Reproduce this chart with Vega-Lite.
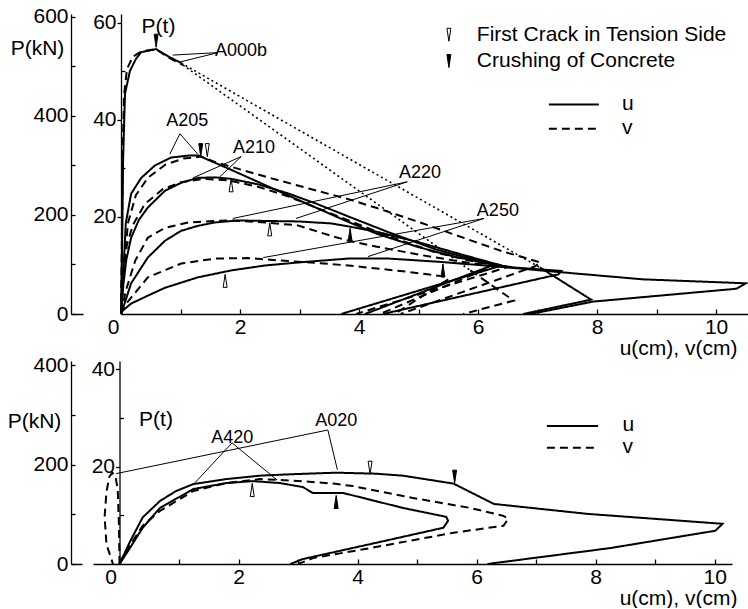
{
 "$schema": "https://vega.github.io/schema/vega-lite/v6.json",
 "padding": {"left": 7, "top": 5, "right": 0, "bottom": 0},
 "config": {
  "font": "Liberation Sans",
  "view": {"stroke": null},
  "axis": {"grid": false, "domain": true, "domainColor": "black", "tickColor": "black", "labelColor": "black", "titleColor": "black", "labelFontSize": 21, "titleFontSize": 21, "titleFontWeight": "normal", "labelFlush": false, "labelOverlap": false, "domainWidth": 1.3, "tickWidth": 1.3},
  "text": {"fontSize": 18, "color": "black"}
 },
 "datasets": {
  "curves": [
   {"g":"T","s":"A000b u1","c":"u","x":0,"p":0},{"g":"T","s":"A000b u1","c":"u","x":0.02,"p":150},{"g":"T","s":"A000b u1","c":"u","x":0.035,"p":310},{"g":"T","s":"A000b u1","c":"u","x":0.067,"p":445},{"g":"T","s":"A000b u1","c":"u","x":0.15,"p":491},{"g":"T","s":"A000b u1","c":"u","x":0.25,"p":515},{"g":"T","s":"A000b u1","c":"u","x":0.34,"p":529},{"g":"T","s":"A000b u1","c":"u","x":0.59,"p":535},{"g":"T","s":"A000b u1","c":"u","x":0.8,"p":520},{"g":"T","s":"A000b u1","c":"u","x":1.01,"p":507},
   {"g":"T","s":"A000b u2","c":"u","x":7.04,"p":94},{"g":"T","s":"A000b u2","c":"u","x":7.9,"p":29},{"g":"T","s":"A000b u2","c":"u","x":6.76,"p":0},
   {"g":"T","s":"A000b v1","c":"v","x":0,"p":0},{"g":"T","s":"A000b v1","c":"v","x":0.015,"p":150},{"g":"T","s":"A000b v1","c":"v","x":0.03,"p":330},{"g":"T","s":"A000b v1","c":"v","x":0.05,"p":440},{"g":"T","s":"A000b v1","c":"v","x":0.1,"p":495},{"g":"T","s":"A000b v1","c":"v","x":0.2,"p":520},{"g":"T","s":"A000b v1","c":"v","x":0.35,"p":531},{"g":"T","s":"A000b v1","c":"v","x":0.59,"p":535},{"g":"T","s":"A000b v1","c":"v","x":0.8,"p":518},{"g":"T","s":"A000b v1","c":"v","x":1.04,"p":503},
   {"g":"T","s":"A000b v2","c":"v","x":5.87,"p":88},{"g":"T","s":"A000b v2","c":"v","x":6.6,"p":27},{"g":"T","s":"A000b v2","c":"v","x":5.75,"p":0},
   {"g":"T","s":"A205 u","c":"u","x":0,"p":0},{"g":"T","s":"A205 u","c":"u","x":0.03,"p":60},{"g":"T","s":"A205 u","c":"u","x":0.08,"p":183},{"g":"T","s":"A205 u","c":"u","x":0.17,"p":243},{"g":"T","s":"A205 u","c":"u","x":0.34,"p":275},{"g":"T","s":"A205 u","c":"u","x":0.57,"p":300},{"g":"T","s":"A205 u","c":"u","x":0.84,"p":316},{"g":"T","s":"A205 u","c":"u","x":1.13,"p":320},{"g":"T","s":"A205 u","c":"u","x":1.3,"p":320},{"g":"T","s":"A205 u","c":"u","x":1.8,"p":294},{"g":"T","s":"A205 u","c":"u","x":2.8,"p":240},{"g":"T","s":"A205 u","c":"u","x":3.82,"p":186},{"g":"T","s":"A205 u","c":"u","x":4.3,"p":162},{"g":"T","s":"A205 u","c":"u","x":5.0,"p":135},{"g":"T","s":"A205 u","c":"u","x":5.6,"p":116},{"g":"T","s":"A205 u","c":"u","x":6.15,"p":102},{"g":"T","s":"A205 u","c":"u","x":6.6,"p":94},{"g":"T","s":"A205 u","c":"u","x":7.4,"p":87},{"g":"T","s":"A205 u","c":"u","x":7.35,"p":80},{"g":"T","s":"A205 u","c":"u","x":4.4,"p":0},
   {"g":"T","s":"A205 v","c":"v","x":0,"p":0},{"g":"T","s":"A205 v","c":"v","x":0.05,"p":100},{"g":"T","s":"A205 v","c":"v","x":0.12,"p":185},{"g":"T","s":"A205 v","c":"v","x":0.25,"p":240},{"g":"T","s":"A205 v","c":"v","x":0.45,"p":275},{"g":"T","s":"A205 v","c":"v","x":0.75,"p":302},{"g":"T","s":"A205 v","c":"v","x":1.05,"p":314},{"g":"T","s":"A205 v","c":"v","x":1.35,"p":318},{"g":"T","s":"A205 v","c":"v","x":1.6,"p":306},{"g":"T","s":"A205 v","c":"v","x":2.5,"p":275},{"g":"T","s":"A205 v","c":"v","x":3.2,"p":252},{"g":"T","s":"A205 v","c":"v","x":3.82,"p":232},{"g":"T","s":"A205 v","c":"v","x":4.3,"p":214},{"g":"T","s":"A205 v","c":"v","x":5.0,"p":186},{"g":"T","s":"A205 v","c":"v","x":5.8,"p":152},{"g":"T","s":"A205 v","c":"v","x":6.4,"p":127},{"g":"T","s":"A205 v","c":"v","x":6.77,"p":114},{"g":"T","s":"A205 v","c":"v","x":7.05,"p":104},{"g":"T","s":"A205 v","c":"v","x":6.95,"p":96},{"g":"T","s":"A205 v","c":"v","x":4.7,"p":0},
   {"g":"T","s":"A210 u","c":"u","x":0,"p":0},{"g":"T","s":"A210 u","c":"u","x":0.04,"p":60},{"g":"T","s":"A210 u","c":"u","x":0.09,"p":110},{"g":"T","s":"A210 u","c":"u","x":0.17,"p":154},{"g":"T","s":"A210 u","c":"u","x":0.3,"p":190},{"g":"T","s":"A210 u","c":"u","x":0.45,"p":215},{"g":"T","s":"A210 u","c":"u","x":0.74,"p":249},{"g":"T","s":"A210 u","c":"u","x":1.01,"p":265},{"g":"T","s":"A210 u","c":"u","x":1.29,"p":275},{"g":"T","s":"A210 u","c":"u","x":1.58,"p":276},{"g":"T","s":"A210 u","c":"u","x":1.85,"p":273},{"g":"T","s":"A210 u","c":"u","x":2.3,"p":262},{"g":"T","s":"A210 u","c":"u","x":2.8,"p":244},{"g":"T","s":"A210 u","c":"u","x":3.3,"p":222},{"g":"T","s":"A210 u","c":"u","x":3.8,"p":198},{"g":"T","s":"A210 u","c":"u","x":4.5,"p":165},{"g":"T","s":"A210 u","c":"u","x":5.3,"p":130},{"g":"T","s":"A210 u","c":"u","x":6.0,"p":108},{"g":"T","s":"A210 u","c":"u","x":6.4,"p":98},{"g":"T","s":"A210 u","c":"u","x":3.7,"p":0},
   {"g":"T","s":"A210 v","c":"v","x":0,"p":0},{"g":"T","s":"A210 v","c":"v","x":0.04,"p":80},{"g":"T","s":"A210 v","c":"v","x":0.1,"p":140},{"g":"T","s":"A210 v","c":"v","x":0.2,"p":180},{"g":"T","s":"A210 v","c":"v","x":0.4,"p":222},{"g":"T","s":"A210 v","c":"v","x":0.7,"p":252},{"g":"T","s":"A210 v","c":"v","x":1.0,"p":266},{"g":"T","s":"A210 v","c":"v","x":1.4,"p":273},{"g":"T","s":"A210 v","c":"v","x":1.8,"p":270},{"g":"T","s":"A210 v","c":"v","x":2.3,"p":257},{"g":"T","s":"A210 v","c":"v","x":2.8,"p":238},{"g":"T","s":"A210 v","c":"v","x":3.3,"p":214},{"g":"T","s":"A210 v","c":"v","x":3.8,"p":190},{"g":"T","s":"A210 v","c":"v","x":4.5,"p":157},{"g":"T","s":"A210 v","c":"v","x":5.3,"p":124},{"g":"T","s":"A210 v","c":"v","x":6.0,"p":104},{"g":"T","s":"A210 v","c":"v","x":6.5,"p":95},{"g":"T","s":"A210 v","c":"v","x":3.95,"p":0},
   {"g":"T","s":"A220 u","c":"u","x":0,"p":0},{"g":"T","s":"A220 u","c":"u","x":0.07,"p":25},{"g":"T","s":"A220 u","c":"u","x":0.17,"p":62},{"g":"T","s":"A220 u","c":"u","x":0.45,"p":114},{"g":"T","s":"A220 u","c":"u","x":0.74,"p":148},{"g":"T","s":"A220 u","c":"u","x":1.01,"p":168},{"g":"T","s":"A220 u","c":"u","x":1.29,"p":178},{"g":"T","s":"A220 u","c":"u","x":1.58,"p":185},{"g":"T","s":"A220 u","c":"u","x":1.97,"p":189},{"g":"T","s":"A220 u","c":"u","x":2.42,"p":188},{"g":"T","s":"A220 u","c":"u","x":2.97,"p":187},{"g":"T","s":"A220 u","c":"u","x":3.53,"p":183},{"g":"T","s":"A220 u","c":"u","x":3.82,"p":177},{"g":"T","s":"A220 u","c":"u","x":4.3,"p":166},{"g":"T","s":"A220 u","c":"u","x":5.0,"p":145},{"g":"T","s":"A220 u","c":"u","x":5.7,"p":121},{"g":"T","s":"A220 u","c":"u","x":6.3,"p":101},{"g":"T","s":"A220 u","c":"u","x":4.1,"p":0},
   {"g":"T","s":"A220 v","c":"v","x":0,"p":0},{"g":"T","s":"A220 v","c":"v","x":0.08,"p":47},{"g":"T","s":"A220 v","c":"v","x":0.24,"p":108},{"g":"T","s":"A220 v","c":"v","x":0.45,"p":154},{"g":"T","s":"A220 v","c":"v","x":0.74,"p":174},{"g":"T","s":"A220 v","c":"v","x":1.13,"p":185},{"g":"T","s":"A220 v","c":"v","x":1.58,"p":188},{"g":"T","s":"A220 v","c":"v","x":1.85,"p":189},{"g":"T","s":"A220 v","c":"v","x":2.42,"p":185},{"g":"T","s":"A220 v","c":"v","x":2.97,"p":179},{"g":"T","s":"A220 v","c":"v","x":3.53,"p":158},{"g":"T","s":"A220 v","c":"v","x":3.82,"p":148},{"g":"T","s":"A220 v","c":"v","x":4.3,"p":136},{"g":"T","s":"A220 v","c":"v","x":5.0,"p":120},{"g":"T","s":"A220 v","c":"v","x":5.7,"p":106},{"g":"T","s":"A220 v","c":"v","x":6.25,"p":97},{"g":"T","s":"A220 v","c":"v","x":4.35,"p":0},
   {"g":"T","s":"A250 u","c":"u","x":0,"p":0},{"g":"T","s":"A250 u","c":"u","x":0.03,"p":7},{"g":"T","s":"A250 u","c":"u","x":0.17,"p":21},{"g":"T","s":"A250 u","c":"u","x":0.45,"p":37},{"g":"T","s":"A250 u","c":"u","x":0.74,"p":53},{"g":"T","s":"A250 u","c":"u","x":1.29,"p":74},{"g":"T","s":"A250 u","c":"u","x":1.85,"p":88},{"g":"T","s":"A250 u","c":"u","x":2.42,"p":98},{"g":"T","s":"A250 u","c":"u","x":2.97,"p":104},{"g":"T","s":"A250 u","c":"u","x":3.82,"p":112},{"g":"T","s":"A250 u","c":"u","x":4.5,"p":112},{"g":"T","s":"A250 u","c":"u","x":5.4,"p":105},{"g":"T","s":"A250 u","c":"u","x":6.4,"p":95},{"g":"T","s":"A250 u","c":"u","x":7.43,"p":84},{"g":"T","s":"A250 u","c":"u","x":8.77,"p":70},{"g":"T","s":"A250 u","c":"u","x":10.5,"p":62},{"g":"T","s":"A250 u","c":"u","x":10.34,"p":51},{"g":"T","s":"A250 u","c":"u","x":7.93,"p":25},{"g":"T","s":"A250 u","c":"u","x":7.09,"p":5},{"g":"T","s":"A250 u","c":"u","x":6.86,"p":0},
   {"g":"T","s":"A250 v","c":"v","x":0,"p":0},{"g":"T","s":"A250 v","c":"v","x":0.05,"p":15},{"g":"T","s":"A250 v","c":"v","x":0.17,"p":33},{"g":"T","s":"A250 v","c":"v","x":0.45,"p":74},{"g":"T","s":"A250 v","c":"v","x":1.01,"p":102},{"g":"T","s":"A250 v","c":"v","x":1.58,"p":112},{"g":"T","s":"A250 v","c":"v","x":2.13,"p":113},{"g":"T","s":"A250 v","c":"v","x":2.69,"p":108},{"g":"T","s":"A250 v","c":"v","x":3.3,"p":103},{"g":"T","s":"A250 v","c":"v","x":3.82,"p":98},{"g":"T","s":"A250 v","c":"v","x":4.3,"p":92},{"g":"T","s":"A250 v","c":"v","x":4.9,"p":84},{"g":"T","s":"A250 v","c":"v","x":5.41,"p":76},{"g":"T","s":"A250 v","c":"v","x":5.5,"p":70},{"g":"T","s":"A250 v","c":"v","x":4.6,"p":0},
   {"g":"B","s":"A020 u","c":"u","x":0,"p":0},{"g":"B","s":"A020 u","c":"u","x":0.18,"p":46},{"g":"B","s":"A020 u","c":"u","x":0.39,"p":94},{"g":"B","s":"A020 u","c":"u","x":0.68,"p":127},{"g":"B","s":"A020 u","c":"u","x":0.95,"p":147},{"g":"B","s":"A020 u","c":"u","x":1.24,"p":161},{"g":"B","s":"A020 u","c":"u","x":1.79,"p":171},{"g":"B","s":"A020 u","c":"u","x":2.36,"p":178},{"g":"B","s":"A020 u","c":"u","x":2.92,"p":181},{"g":"B","s":"A020 u","c":"u","x":3.64,"p":184},{"g":"B","s":"A020 u","c":"u","x":4.3,"p":182},{"g":"B","s":"A020 u","c":"u","x":4.76,"p":178},{"g":"B","s":"A020 u","c":"u","x":5.61,"p":162},{"g":"B","s":"A020 u","c":"u","x":6.29,"p":121},{"g":"B","s":"A020 u","c":"u","x":7.86,"p":101},{"g":"B","s":"A020 u","c":"u","x":10.13,"p":81},{"g":"B","s":"A020 u","c":"u","x":10.01,"p":67},{"g":"B","s":"A020 u","c":"u","x":8.24,"p":32},{"g":"B","s":"A020 u","c":"u","x":6.18,"p":0},
   {"g":"B","s":"A020 v","c":"v","x":0,"p":0},{"g":"B","s":"A020 v","c":"v","x":-0.01,"p":80},{"g":"B","s":"A020 v","c":"v","x":-0.03,"p":150},{"g":"B","s":"A020 v","c":"v","x":-0.07,"p":178},{"g":"B","s":"A020 v","c":"v","x":-0.12,"p":184},{"g":"B","s":"A020 v","c":"v","x":-0.17,"p":176},{"g":"B","s":"A020 v","c":"v","x":-0.22,"p":145},{"g":"B","s":"A020 v","c":"v","x":-0.25,"p":95},{"g":"B","s":"A020 v","c":"v","x":-0.22,"p":40},{"g":"B","s":"A020 v","c":"v","x":-0.11,"p":0},
   {"g":"B","s":"A420 u","c":"u","x":0,"p":0},{"g":"B","s":"A420 u","c":"u","x":0.11,"p":20},{"g":"B","s":"A420 u","c":"u","x":0.39,"p":73},{"g":"B","s":"A420 u","c":"u","x":0.68,"p":113},{"g":"B","s":"A420 u","c":"u","x":1.24,"p":151},{"g":"B","s":"A420 u","c":"u","x":1.79,"p":163},{"g":"B","s":"A420 u","c":"u","x":2.24,"p":167},{"g":"B","s":"A420 u","c":"u","x":2.7,"p":163},{"g":"B","s":"A420 u","c":"u","x":3.08,"p":155},{"g":"B","s":"A420 u","c":"u","x":3.25,"p":143},{"g":"B","s":"A420 u","c":"u","x":3.76,"p":143},{"g":"B","s":"A420 u","c":"u","x":4.76,"p":113},{"g":"B","s":"A420 u","c":"u","x":5.49,"p":95},{"g":"B","s":"A420 u","c":"u","x":5.52,"p":87},{"g":"B","s":"A420 u","c":"u","x":5.44,"p":73},{"g":"B","s":"A420 u","c":"u","x":4.21,"p":40},{"g":"B","s":"A420 u","c":"u","x":3.08,"p":10},{"g":"B","s":"A420 u","c":"u","x":2.87,"p":0},
   {"g":"B","s":"A420 v","c":"v","x":0,"p":0},{"g":"B","s":"A420 v","c":"v","x":0.11,"p":26},{"g":"B","s":"A420 v","c":"v","x":0.39,"p":77},{"g":"B","s":"A420 v","c":"v","x":0.68,"p":107},{"g":"B","s":"A420 v","c":"v","x":1.24,"p":147},{"g":"B","s":"A420 v","c":"v","x":1.79,"p":163},{"g":"B","s":"A420 v","c":"v","x":2.36,"p":171},{"g":"B","s":"A420 v","c":"v","x":2.92,"p":168},{"g":"B","s":"A420 v","c":"v","x":3.59,"p":162},{"g":"B","s":"A420 v","c":"v","x":3.92,"p":157},{"g":"B","s":"A420 v","c":"v","x":4.93,"p":133},{"g":"B","s":"A420 v","c":"v","x":5.89,"p":113},{"g":"B","s":"A420 v","c":"v","x":6.45,"p":97},{"g":"B","s":"A420 v","c":"v","x":6.53,"p":91},{"g":"B","s":"A420 v","c":"v","x":6.45,"p":77},{"g":"B","s":"A420 v","c":"v","x":5.61,"p":63},{"g":"B","s":"A420 v","c":"v","x":4.21,"p":32},{"g":"B","s":"A420 v","c":"v","x":3.25,"p":12},{"g":"B","s":"A420 v","c":"v","x":3.0,"p":0}
  ],
  "jumps": [
   {"g":"T","s":"A000b u","c":"u","x":1.01,"p":507},{"g":"T","s":"A000b u","c":"u","x":7.04,"p":94},
   {"g":"T","s":"A000b v","c":"v","x":1.04,"p":503},{"g":"T","s":"A000b v","c":"v","x":5.87,"p":88}
  ],
  "events": [
   {"g":"T","s":"A000b","e":"crush","d":"down","x":0.59,"p":552},
   {"g":"T","s":"A205","e":"crush","d":"down","x":1.34,"p":331},
   {"g":"T","s":"A205","e":"crack","d":"down","x":1.45,"p":331},
   {"g":"T","s":"A210","e":"crack","d":"up","x":1.85,"p":260},
   {"g":"T","s":"A220","e":"crack","d":"up","x":2.5,"p":171},
   {"g":"T","s":"A220","e":"crush","d":"up","x":3.85,"p":160},
   {"g":"T","s":"A250","e":"crack","d":"up","x":1.75,"p":67},
   {"g":"T","s":"A250","e":"crush","d":"up","x":5.41,"p":88},
   {"g":"B","s":"A020","e":"crack","d":"down","x":4.21,"p":194},
   {"g":"B","s":"A020","e":"crush","d":"down","x":5.63,"p":176},
   {"g":"B","s":"A420","e":"crack","d":"up","x":2.23,"p":149},
   {"g":"B","s":"A420","e":"crush","d":"up","x":3.64,"p":125}
  ],
  "labels": [
   {"g":"T","t":"A000b","x":1.58,"p":531},
   {"g":"T","t":"A205","x":0.76,"p":390},
   {"g":"T","t":"A210","x":1.88,"p":336},
   {"g":"T","t":"A220","x":4.67,"p":285},
   {"g":"T","t":"A250","x":5.98,"p":208},
   {"g":"B","t":"A420","x":1.54,"p":254},
   {"g":"B","t":"A020","x":3.29,"p":288}
  ],
  "leaders": [
   {"g":"T","x":1.63,"p":528,"x2":0.87,"p2":523},
   {"g":"T","x":1.63,"p":528,"x2":0.99,"p2":509},
   {"g":"T","x":0.99,"p":364,"x2":0.82,"p2":323},
   {"g":"T","x":0.99,"p":364,"x2":1.29,"p2":323},
   {"g":"T","x":2.02,"p":318,"x2":1.21,"p2":275},
   {"g":"T","x":2.02,"p":318,"x2":1.66,"p2":277},
   {"g":"T","x":4.81,"p":267,"x2":1.88,"p2":193},
   {"g":"T","x":4.81,"p":267,"x2":2.94,"p2":193},
   {"g":"T","x":6.1,"p":193,"x2":2.39,"p2":114},
   {"g":"T","x":6.1,"p":193,"x2":4.15,"p2":116},
   {"g":"B","x":1.89,"p":244,"x2":1.24,"p2":160},
   {"g":"B","x":1.89,"p":244,"x2":2.65,"p2":169},
   {"g":"B","x":3.5,"p":270,"x2":-0.06,"p2":182},
   {"g":"B","x":3.5,"p":270,"x2":3.66,"p2":190}
  ],
  "keylines": [
   {"g":"T","c":"u","x":7.19,"x2":8.03,"p":423},
   {"g":"T","c":"v","x":7.19,"x2":8.03,"p":374},
   {"g":"B","c":"u","x":7.18,"x2":8.04,"p":278},
   {"g":"B","c":"v","x":7.18,"x2":8.04,"p":234}
  ],
  "keytexts": [
   {"g":"T","t":"u","x":8.42,"p":425},
   {"g":"T","t":"v","x":8.42,"p":376},
   {"g":"T","t":"First Crack in Tension Side","x":5.98,"p":564},
   {"g":"T","t":"Crushing of Concrete","x":5.98,"p":511},
   {"g":"B","t":"u","x":8.45,"p":280},
   {"g":"B","t":"v","x":8.45,"p":236}
  ],
  "keymarks": [
   {"g":"T","e":"crack","d":"down","x":5.51,"p":564},
   {"g":"T","e":"crush","d":"down","x":5.51,"p":511}
  ]
 },
 "columns": 1,
 "spacing": -4,
 "concat": [
  {
   "width": 679, "height": 300,
   "resolve": {"axis": {"y": "independent"}},
   "layer": [
    {
     "data": {"name": "curves"},
     "transform": [{"filter": "datum.g == 'T'"}],
     "mark": {"type": "line", "strokeWidth": 2, "color": "black", "clip": true},
     "encoding": {
      "x": {"field": "x", "type": "quantitative", "scale": {"domain": [-0.8403, 10.57], "nice": false, "zero": false},
       "axis": {"values": [0,1,2,3,4,5,6,7,8,9,10], "labelExpr": "datum.value % 2 == 0 ? format(datum.value, 'd') : ''", "tickSize": -5, "labelPadding": 7,
        "labelOffset": {"condition": {"test": "datum.value == 0", "value": -8}, "value": 0},
        "domainDash": [12, 38, 1000],
        "title": "u(cm), v(cm)", "titleX": 666, "titleY": 34, "titleAlign": "right", "titleBaseline": "middle"}},
      "y": {"field": "p", "type": "quantitative", "scale": {"domain": [0, 606], "nice": false, "zero": false},
       "axis": {"orient": "left", "offset": 0, "domain": true, "values": [0,100,200,300,400,500,600], "labelExpr": "datum.value % 200 == 0 ? datum.label : ''",
        "tickSize": -4, "labelPadding": 7,
        "title": "P(kN)", "titleAngle": 0, "titleX": -34, "titleY": 34, "titleAlign": "center", "titleBaseline": "middle"}},
      "detail": {"field": "s"},
      "strokeDash": {"field": "c", "type": "nominal", "scale": {"domain": ["u", "v"], "range": [[1, 0], [8, 5]]}, "legend": null},
      "order": {"value": null}
     }
    },
    {
     "data": {"name": "jumps"},
     "transform": [{"filter": "datum.g == 'T'"}],
     "mark": {"type": "line", "strokeWidth": 1.6, "color": "black", "strokeDash": [2, 3]},
     "encoding": {
      "x": {"field": "x", "type": "quantitative", "scale": {"domain": [-0.8403, 10.57], "nice": false, "zero": false}},
      "y": {"field": "p", "type": "quantitative", "scale": {"domain": [0, 606], "nice": false, "zero": false}, "axis": null},
      "detail": {"field": "s"}
     }
    },
    {
     "data": {"name": "leaders"},
     "transform": [{"filter": "datum.g == 'T'"}],
     "mark": {"type": "rule", "strokeWidth": 1, "color": "black"},
     "encoding": {
      "x": {"field": "x", "type": "quantitative", "scale": {"domain": [-0.8403, 10.57], "nice": false, "zero": false}},
      "y": {"field": "p", "type": "quantitative", "scale": {"domain": [0, 606], "nice": false, "zero": false}, "axis": null},
      "x2": {"field": "x2"}, "y2": {"field": "p2"}
     }
    },
    {
     "data": {"name": "labels"},
     "transform": [{"filter": "datum.g == 'T'"}],
     "mark": {"type": "text", "align": "left", "baseline": "middle", "fontSize": 18},
     "encoding": {
      "x": {"field": "x", "type": "quantitative", "scale": {"domain": [-0.8403, 10.57], "nice": false, "zero": false}},
      "y": {"field": "p", "type": "quantitative", "scale": {"domain": [0, 606], "nice": false, "zero": false}, "axis": null},
      "text": {"field": "t"}
     }
    },
    {
     "data": {"name": "keylines"},
     "transform": [{"filter": "datum.g == 'T'"}],
     "mark": {"type": "rule", "strokeWidth": 2, "color": "black"},
     "encoding": {
      "x": {"field": "x", "type": "quantitative", "scale": {"domain": [-0.8403, 10.57], "nice": false, "zero": false}},
      "y": {"field": "p", "type": "quantitative", "scale": {"domain": [0, 606], "nice": false, "zero": false}, "axis": null},
      "x2": {"field": "x2"},
      "strokeDash": {"field": "c", "type": "nominal", "scale": {"domain": ["u", "v"], "range": [[1, 0], [8, 5]]}, "legend": null}
     }
    },
    {
     "data": {"name": "keytexts"},
     "transform": [{"filter": "datum.g == 'T'"}],
     "mark": {"type": "text", "align": "left", "baseline": "middle", "fontSize": 21},
     "encoding": {
      "x": {"field": "x", "type": "quantitative", "scale": {"domain": [-0.8403, 10.57], "nice": false, "zero": false}},
      "y": {"field": "p", "type": "quantitative", "scale": {"domain": [0, 606], "nice": false, "zero": false}, "axis": null},
      "text": {"field": "t"}
     }
    },
    {
     "data": {"name": "keymarks"},
     "transform": [{"filter": "datum.g == 'T'"}],
     "mark": {"type": "point", "shape": "M-0.3,-1L0.3,-1L0,1Z", "size": 170, "filled": true, "stroke": "black", "strokeWidth": 1, "opacity": 1},
     "encoding": {
      "x": {"field": "x", "type": "quantitative", "scale": {"domain": [-0.8403, 10.57], "nice": false, "zero": false}},
      "y": {"field": "p", "type": "quantitative", "scale": {"domain": [0, 606], "nice": false, "zero": false}, "axis": null},
      "fill": {"field": "e", "type": "nominal", "scale": {"domain": ["crack", "crush"], "range": ["white", "black"]}, "legend": null},
      "angle": {"field": "d", "type": "nominal", "scale": {"domain": ["down", "up"], "range": [0, 180]}, "legend": null}
     }
    },
    {
     "data": {"name": "events"},
     "transform": [{"filter": "datum.g == 'T'"}],
     "mark": {"type": "point", "shape": "M-0.3,-1L0.3,-1L0,1Z", "size": 170, "filled": true, "stroke": "black", "strokeWidth": 1, "opacity": 1},
     "encoding": {
      "x": {"field": "x", "type": "quantitative", "scale": {"domain": [-0.8403, 10.57], "nice": false, "zero": false}},
      "y": {"field": "p", "type": "quantitative", "scale": {"domain": [0, 606], "nice": false, "zero": false},
       "axis": {"orient": "left", "offset": -50, "values": [98.0665, 196.133, 294.1995, 392.266, 490.3325, 588.399],
        "labelExpr": "round(datum.value / 9.80665) % 20 == 0 ? format(round(datum.value / 9.80665), 'd') : ''",
        "tickSize": {"condition": {"test": "round(datum.value / 9.80665) % 20 == 0", "value": 4}, "value": -4},
        "labelPadding": 1,
        "title": "P(t)", "titleAngle": 0, "titleX": 37, "titleY": 12, "titleAlign": "center", "titleBaseline": "middle"}},
      "fill": {"field": "e", "type": "nominal", "scale": {"domain": ["crack", "crush"], "range": ["white", "black"]}, "legend": null},
      "angle": {"field": "d", "type": "nominal", "scale": {"domain": ["down", "up"], "range": [0, 180]}, "legend": null}
     }
    }
   ]
  },
  {
   "width": 661, "height": 203,
   "resolve": {"axis": {"y": "independent"}},
   "layer": [
    {
     "data": {"name": "curves"},
     "transform": [{"filter": "datum.g == 'B'"}],
     "mark": {"type": "line", "strokeWidth": 2, "color": "black", "clip": true},
     "encoding": {
      "x": {"field": "x", "type": "quantitative", "scale": {"domain": [-0.8151, 10.29], "nice": false, "zero": false},
       "axis": {"values": [0,1,2,3,4,5,6,7,8,9,10], "labelExpr": "datum.value % 2 == 0 ? format(datum.value, 'd') : ''", "tickSize": -5, "labelPadding": 7,
        "labelOffset": {"condition": {"test": "datum.value == 0", "value": -9}, "value": 0},
        "domainDash": [11, 11, 1000],
        "title": "u(cm), v(cm)", "titleX": 666, "titleY": 34, "titleAlign": "right", "titleBaseline": "middle"}},
      "y": {"field": "p", "type": "quantitative", "scale": {"domain": [0, 409], "nice": false, "zero": false},
       "axis": {"orient": "left", "offset": 0, "domain": true, "values": [0,100,200,300,400], "labelExpr": "datum.value % 200 == 0 ? datum.label : ''",
        "tickSize": -4, "labelPadding": 7,
        "title": "P(kN)", "titleAngle": 0, "titleX": -37, "titleY": 60, "titleAlign": "center", "titleBaseline": "middle"}},
      "detail": {"field": "s"},
      "strokeDash": {"field": "c", "type": "nominal", "scale": {"domain": ["u", "v"], "range": [[1, 0], [8, 5]]}, "legend": null},
      "order": {"value": null}
     }
    },
    {
     "data": {"name": "leaders"},
     "transform": [{"filter": "datum.g == 'B'"}],
     "mark": {"type": "rule", "strokeWidth": 1, "color": "black"},
     "encoding": {
      "x": {"field": "x", "type": "quantitative", "scale": {"domain": [-0.8151, 10.29], "nice": false, "zero": false}},
      "y": {"field": "p", "type": "quantitative", "scale": {"domain": [0, 409], "nice": false, "zero": false}, "axis": null},
      "x2": {"field": "x2"}, "y2": {"field": "p2"}
     }
    },
    {
     "data": {"name": "labels"},
     "transform": [{"filter": "datum.g == 'B'"}],
     "mark": {"type": "text", "align": "left", "baseline": "middle", "fontSize": 18},
     "encoding": {
      "x": {"field": "x", "type": "quantitative", "scale": {"domain": [-0.8151, 10.29], "nice": false, "zero": false}},
      "y": {"field": "p", "type": "quantitative", "scale": {"domain": [0, 409], "nice": false, "zero": false}, "axis": null},
      "text": {"field": "t"}
     }
    },
    {
     "data": {"name": "keylines"},
     "transform": [{"filter": "datum.g == 'B'"}],
     "mark": {"type": "rule", "strokeWidth": 2, "color": "black"},
     "encoding": {
      "x": {"field": "x", "type": "quantitative", "scale": {"domain": [-0.8151, 10.29], "nice": false, "zero": false}},
      "y": {"field": "p", "type": "quantitative", "scale": {"domain": [0, 409], "nice": false, "zero": false}, "axis": null},
      "x2": {"field": "x2"},
      "strokeDash": {"field": "c", "type": "nominal", "scale": {"domain": ["u", "v"], "range": [[1, 0], [8, 5]]}, "legend": null}
     }
    },
    {
     "data": {"name": "keytexts"},
     "transform": [{"filter": "datum.g == 'B'"}],
     "mark": {"type": "text", "align": "left", "baseline": "middle", "fontSize": 21},
     "encoding": {
      "x": {"field": "x", "type": "quantitative", "scale": {"domain": [-0.8151, 10.29], "nice": false, "zero": false}},
      "y": {"field": "p", "type": "quantitative", "scale": {"domain": [0, 409], "nice": false, "zero": false}, "axis": null},
      "text": {"field": "t"}
     }
    },
    {
     "data": {"name": "events"},
     "transform": [{"filter": "datum.g == 'B'"}],
     "mark": {"type": "point", "shape": "M-0.3,-1L0.3,-1L0,1Z", "size": 170, "filled": true, "stroke": "black", "strokeWidth": 1, "opacity": 1},
     "encoding": {
      "x": {"field": "x", "type": "quantitative", "scale": {"domain": [-0.8151, 10.29], "nice": false, "zero": false}},
      "y": {"field": "p", "type": "quantitative", "scale": {"domain": [0, 409], "nice": false, "zero": false},
       "axis": {"orient": "left", "offset": -48.5, "values": [98.0665, 196.133, 294.1995, 392.266],
        "labelExpr": "round(datum.value / 9.80665) % 20 == 0 ? format(round(datum.value / 9.80665), 'd') : ''",
        "tickSize": {"condition": {"test": "round(datum.value / 9.80665) % 20 == 0", "value": 4}, "value": -4},
        "labelPadding": 1,
        "title": "P(t)", "titleAngle": 0, "titleX": 36, "titleY": 58, "titleAlign": "center", "titleBaseline": "middle"}},
      "fill": {"field": "e", "type": "nominal", "scale": {"domain": ["crack", "crush"], "range": ["white", "black"]}, "legend": null},
      "angle": {"field": "d", "type": "nominal", "scale": {"domain": ["down", "up"], "range": [0, 180]}, "legend": null}
     }
    }
   ]
  }
 ]
}
